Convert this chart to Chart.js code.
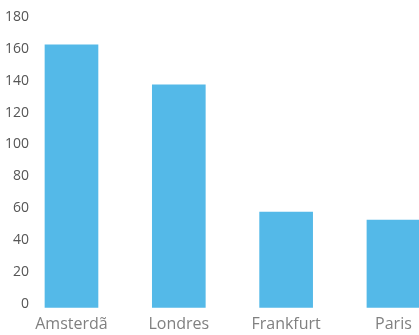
<!DOCTYPE html>
<html>
<head>
<meta charset="utf-8">
<script src="https://cdn.jsdelivr.net/npm/chart.js@4/dist/chart.umd.min.js"></script>
<style>
  html, body { margin: 0; padding: 0; background: #fff; overflow: hidden; }
</style>
</head>
<body>
<canvas id="cidadesChart" width="419" height="335"></canvas>
<script>
// Dados
const cidades = ['Amsterdã', 'Londres', 'Frankfurt', 'Paris'];
const valores = [165, 140, 60, 55];
const eixoYMin = 0;
const eixoYMax = 180;
const eixoYPasso = 20;

const familia = "'Open Sans', sans-serif";

new Chart(document.getElementById('cidadesChart'), {
  type: 'bar',
  data: {
    datasets: [{
      data: valores.map((v, i) => ({ x: i, y: v })),
      backgroundColor: '#54b9e8',
      barThickness: 53
    }]
  },
  options: {
    responsive: false,
    animation: false,
    layout: { padding: { top: 21, right: 0, left: 0, bottom: 0 } },
    plugins: { legend: { display: false }, tooltip: { enabled: false } },
    scales: {
      x: {
        type: 'linear',
        offset: false,
        min: -0.312,
        max: 3.238,
        afterFit: s => { s.height = 27.3; },
        grid: { display: false, drawTicks: false },
        border: { display: false },
        afterBuildTicks: s => { s.ticks = cidades.map((_, i) => ({ value: i })); },
        ticks: {
          callback: v => cidades[v],
          color: '#808080', font: { family: familia, size: 16 }, padding: 7,
          maxRotation: 0, autoSkip: false
        }
      },
      y: {
        min: eixoYMin,
        max: eixoYMax,
        afterFit: s => { s.width = 38; },
        grid: { display: false, drawTicks: false },
        border: { display: false },
        ticks: {
          stepSize: eixoYPasso, color: '#555',
          font: { family: familia, size: 14 }, padding: 9, labelOffset: -4
        }
      }
    }
  }
});
</script>
</body>
</html>
